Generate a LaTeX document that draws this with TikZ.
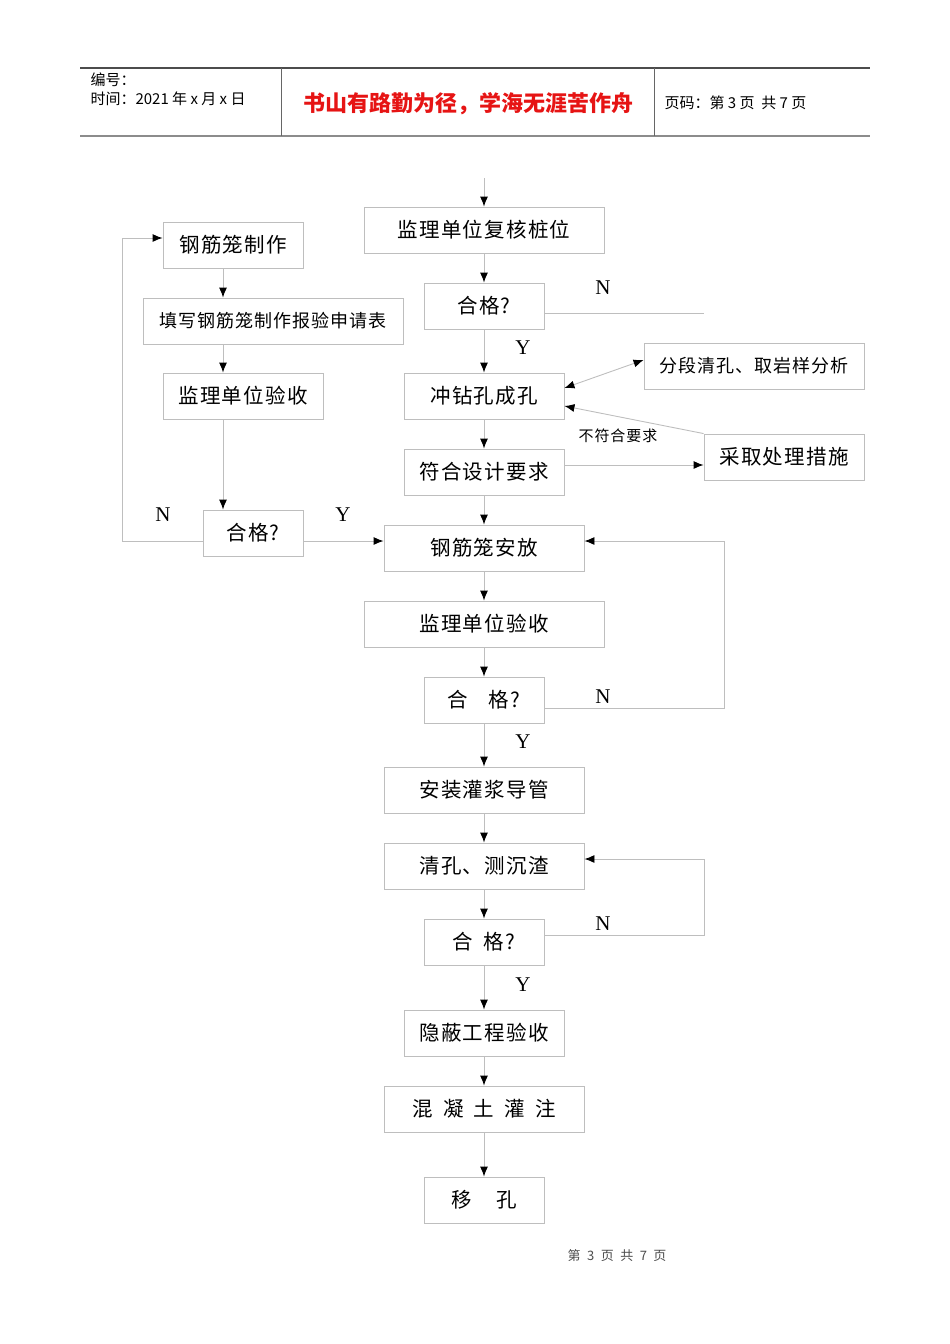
\documentclass[tikz,border=0pt]{standalone}
\usepackage{fontspec}
\setmainfont{Liberation Serif}
\newfontfamily\cjk{Noto Sans CJK SC}
\newfontfamily\cjkwide[LetterSpace=6]{Noto Sans CJK SC}
\usetikzlibrary{arrows.meta}

\definecolor{boxgray}{RGB}{190,190,190}
\definecolor{mottored}{RGB}{230,20,20}

\tikzset{box/.style = {draw=boxgray, line width=0.9pt, minimum height=46pt, inner sep=0pt,
                       font=\cjkwide\fontsize{20.5}{22}\selectfont}}
\tikzset{smallbox/.style = {box, font=\cjkwide\fontsize{18}{20}\selectfont}}
\tikzset{line/.style = {draw=boxgray, line width=0.9pt}}
\tikzset{yn/.style = {font=\fontsize{21}{22}\selectfont}}
\tikzset{head/.style = {anchor=west, font=\cjk\fontsize{15}{17}\selectfont}}

\begin{document}
\begin{tikzpicture}[x=1pt, y=-1pt, >={Latex[black, length=10pt, width=8pt]}]
            {
                \useasboundingbox (0, 0) rectangle (950, 1344);

                % page header
                \draw[line width=1.2pt, black!70] (80, 68) -- (870, 68);
                \draw[line width=2pt, black!45] (80, 136) -- (870, 136);
                \draw[line width=0.9pt, black!60] (281, 68) -- (281, 136);
                \draw[line width=0.9pt, black!60] (654, 68) -- (654, 136);
                \node[head] (number) at (87, 80) {编号：};
                \node[head] (date) at (87, 99) {时间：2021 年 x 月 x 日};
                \node[font=\cjk\bfseries\fontsize{22}{24}\selectfont, text=mottored] (motto) at (468, 104)
                    {书山有路勤为径，学海无涯苦作舟};
                \node[head] (pageno) at (661, 103) {页码：第 3 页 \ 共 7 页};

                % main column
                \node[box, minimum width=240pt] (recheck) at (484, 230) {监理单位复核桩位};
                \node[box, minimum width=120pt] (okpile) at (484, 306) {合格?};
                \node[box, minimum width=160pt] (drill) at (484, 396) {冲钻孔成孔};
                \node[box, minimum width=160pt] (design) at (484, 472) {符合设计要求};
                \node[box, minimum width=200pt] (place) at (484, 548) {钢筋笼安放};
                \node[box, minimum width=240pt] (accept) at (484, 624) {监理单位验收};
                \node[box, minimum width=120pt] (okcage) at (484, 700) {合\hspace{1em}格?};
                \node[box, minimum width=200pt] (pipe) at (484, 790) {安装灌浆导管};
                \node[box, minimum width=200pt] (clean) at (484, 866) {清孔、测沉渣};
                \node[box, minimum width=120pt] (okclean) at (484, 942) {合\hspace{0.5em}格?};
                \node[box, minimum width=160pt] (hidden) at (484, 1033) {隐蔽工程验收};
                \node[box, minimum width=200pt] (pour) at (484, 1109)
                    {混\hspace{0.5em}凝\hspace{0.5em}土\hspace{0.5em}灌\hspace{0.5em}注};
                \node[box, minimum width=120pt] (move) at (484, 1200) {移\hspace{1.2em}孔};

                % side boxes
                \node[smallbox, minimum width=220pt] (sample) at (754, 366) {分段清孔、取岩样分析};
                \node[box, minimum width=160pt] (treat) at (784, 457) {采取处理措施};

                % cage column
                \node[box, minimum width=140pt] (cage) at (233, 245) {钢筋笼制作};
                \node[smallbox, minimum width=260pt] (form) at (273, 321) {填写钢筋笼制作报验申请表};
                \node[box, minimum width=160pt] (cageacc) at (243, 396) {监理单位验收};
                \node[box, minimum width=100pt] (okleft) at (253, 533) {合格?};

                \coordinate (top) at (484, 178);
                \coordinate (nend) at (704, 313);
                \coordinate (lx) at (223, 0);
            }

            % main chain
            \draw[line, ->] (top) -- (recheck);
            \draw[line, ->] (recheck) -- (okpile);
            \draw[line, ->] (okpile) -- (drill);
            \draw[line, ->] (drill) -- (design);
            \draw[line, ->] (design) -- (place);
            \draw[line, ->] (place) -- (accept);
            \draw[line, ->] (accept) -- (okcage);
            \draw[line, ->] (okcage) -- (pipe);
            \draw[line, ->] (pipe) -- (clean);
            \draw[line, ->] (clean) -- (okclean);
            \draw[line, ->] (okclean) -- (hidden);
            \draw[line, ->] (hidden) -- (pour);
            \draw[line, ->] (pour) -- (move);

            \draw[line] ([yshift=-7pt]okpile.east) -- (nend);
            \node[yn] (n1) at (603, 288) {N};
            \node[yn] (y1) at (523, 348) {Y};

            % side branches
            \draw[line, <->] ([yshift=8pt]drill.east) -- ([yshift=6pt]sample.west);
            \draw[line, ->] (treat.north west) -- ([yshift=-10pt]drill.east);
            \draw[line, ->] ([yshift=7pt]design.east) -- ([yshift=7pt]design.east -| treat.west);
            \node[font=\cjkwide\fontsize{15}{16}\selectfont] (nofit) at (618, 436) {不符合要求};

            % cage column
            \draw[line, ->] (cage.south -| lx) -- (form.north -| lx);
            \draw[line, ->] (form.south -| lx) -- (cageacc.north -| lx);
            \draw[line, ->] (cageacc.south -| lx) -- (okleft.north -| lx);
            \draw[line, ->] ([yshift=-8pt]okleft.west) -- ++(-80, 0) |- ([yshift=7pt]cage.west);
            \draw[line, ->] ([yshift=-8pt]okleft.east) -- ([yshift=-8pt]okleft.east -| place.west);
            \node[yn] (n2) at (163, 515) {N};
            \node[yn] (y2) at (343, 515) {Y};

            % loops back
            \draw[line, ->] ([yshift=-8pt]okcage.east) -- ++(180, 0) |- ([yshift=7pt]place.east);
            \node[yn] (n3) at (603, 697) {N};
            \node[yn] (y3) at (523, 742) {Y};
            \draw[line, ->] ([yshift=7pt]okclean.east) -- ++(160, 0) |- ([yshift=7pt]clean.east);
            \node[yn] (n4) at (603, 924) {N};
            \node[yn] (y4) at (523, 985) {Y};

            % footer
            \node[font=\cjk\fontsize{13}{15}\selectfont, text=black!70] (footer) at (617, 1256)
                {第\hspace{0.5em}3\hspace{0.5em}页\hspace{0.5em}共\hspace{0.5em}7\hspace{0.5em}页};

        \end{tikzpicture}
\end{document}
